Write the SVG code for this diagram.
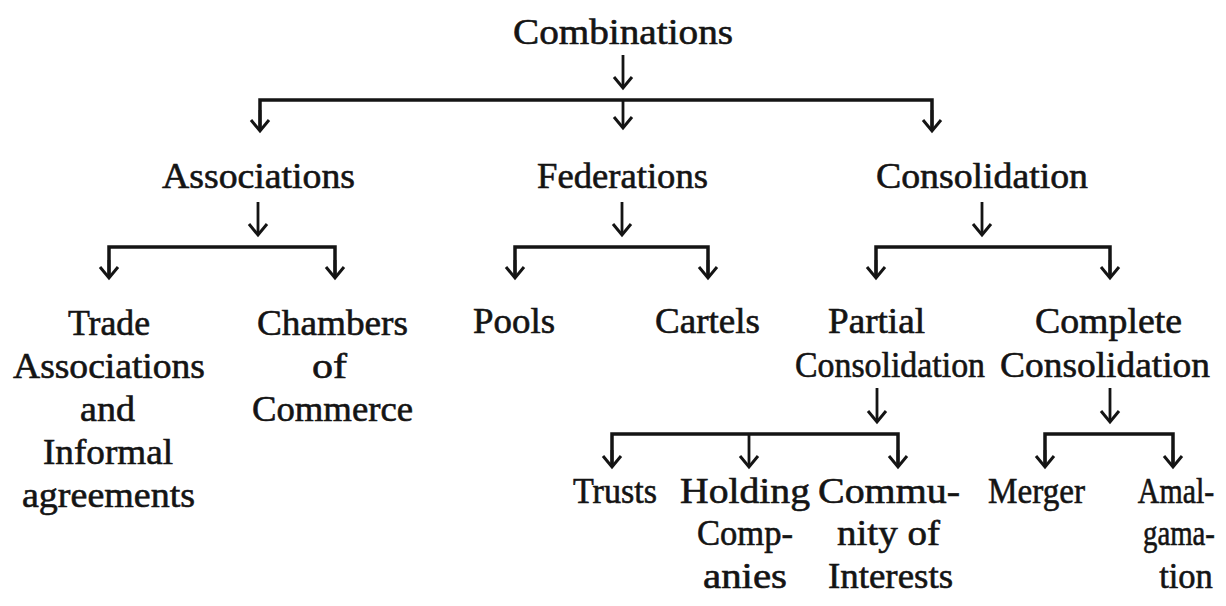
<svg xmlns="http://www.w3.org/2000/svg" width="1226" height="606" viewBox="0 0 1226 606">
<style>
text{font-family:"Liberation Serif","Times New Roman",serif;font-size:36px;fill:#141414;stroke:#141414;stroke-width:0.6}
.c{fill:none;stroke:#141414;stroke-width:3.5;stroke-linejoin:miter}
.a{fill:none;stroke:#141414;stroke-width:2.8}
</style>
<defs>
<marker id="ah" markerUnits="userSpaceOnUse" markerWidth="30" markerHeight="30" refX="0" refY="0" viewBox="-15 -15 30 30" orient="auto" overflow="visible">
<path d="M-11,-9 L0,0 L-11,9" fill="none" stroke="#141414" stroke-width="3"/>
</marker>
</defs>
<rect width="1226" height="606" fill="#ffffff"/>
<g id="connectors">
<line class="a" x1="623" y1="55" x2="623" y2="88" marker-end="url(#ah)"/>
<path class="c" d="M260,131 V100 H932 V131"/>
<line class="a" x1="260" y1="110" x2="260" y2="131" marker-end="url(#ah)"/>
<line class="a" x1="932" y1="110" x2="932" y2="131" marker-end="url(#ah)"/>
<line class="a" x1="623" y1="100" x2="623" y2="128" marker-end="url(#ah)"/>
<line class="a" x1="258" y1="202" x2="258" y2="235" marker-end="url(#ah)"/>
<line class="a" x1="622" y1="202" x2="622" y2="235" marker-end="url(#ah)"/>
<line class="a" x1="982" y1="202" x2="982" y2="235" marker-end="url(#ah)"/>
<path class="c" d="M109,278 V247 H335 V278"/>
<line class="a" x1="109" y1="260" x2="109" y2="278" marker-end="url(#ah)"/>
<line class="a" x1="335" y1="260" x2="335" y2="278" marker-end="url(#ah)"/>
<path class="c" d="M515,278 V247 H708 V278"/>
<line class="a" x1="515" y1="260" x2="515" y2="278" marker-end="url(#ah)"/>
<line class="a" x1="708" y1="260" x2="708" y2="278" marker-end="url(#ah)"/>
<path class="c" d="M876,278 V247 H1110 V278"/>
<line class="a" x1="876" y1="260" x2="876" y2="278" marker-end="url(#ah)"/>
<line class="a" x1="1110" y1="260" x2="1110" y2="278" marker-end="url(#ah)"/>
<line class="a" x1="877" y1="388" x2="877" y2="422" marker-end="url(#ah)"/>
<line class="a" x1="1110" y1="388" x2="1110" y2="422" marker-end="url(#ah)"/>
<path class="c" d="M612,467 V434 H898 V467"/>
<line class="a" x1="612" y1="450" x2="612" y2="467" marker-end="url(#ah)"/>
<line class="a" x1="898" y1="450" x2="898" y2="467" marker-end="url(#ah)"/>
<line class="a" x1="749" y1="434" x2="749" y2="467" marker-end="url(#ah)"/>
<path class="c" d="M1045,467 V434 H1173 V467"/>
<line class="a" x1="1045" y1="450" x2="1045" y2="467" marker-end="url(#ah)"/>
<line class="a" x1="1173" y1="450" x2="1173" y2="467" marker-end="url(#ah)"/>
</g>
<g id="combinations"><text x="513" y="44" textLength="220" lengthAdjust="spacingAndGlyphs">Combinations</text></g>
<g id="associations"><text x="162" y="188" textLength="193" lengthAdjust="spacingAndGlyphs">Associations</text></g>
<g id="federations"><text x="537" y="188" textLength="171" lengthAdjust="spacingAndGlyphs">Federations</text></g>
<g id="consolidation"><text x="876" y="188" textLength="212" lengthAdjust="spacingAndGlyphs">Consolidation</text></g>
<g id="trade-associations">
<text x="68" y="335" textLength="82" lengthAdjust="spacingAndGlyphs">Trade</text>
<text x="13" y="378" textLength="192" lengthAdjust="spacingAndGlyphs">Associations</text>
<text x="80" y="421" textLength="55" lengthAdjust="spacingAndGlyphs">and</text>
<text x="43" y="464" textLength="130" lengthAdjust="spacingAndGlyphs">Informal</text>
<text x="22" y="507" textLength="173" lengthAdjust="spacingAndGlyphs">agreements</text>
</g>
<g id="chambers">
<text x="257" y="335" textLength="151" lengthAdjust="spacingAndGlyphs">Chambers</text>
<text x="312" y="378" textLength="35" lengthAdjust="spacingAndGlyphs">of</text>
<text x="252" y="421" textLength="161" lengthAdjust="spacingAndGlyphs">Commerce</text>
</g>
<g id="pools"><text x="473" y="333" textLength="82" lengthAdjust="spacingAndGlyphs">Pools</text></g>
<g id="cartels"><text x="655" y="333" textLength="105" lengthAdjust="spacingAndGlyphs">Cartels</text></g>
<g id="partial">
<text x="828" y="333" textLength="97" lengthAdjust="spacingAndGlyphs">Partial</text>
<text x="795" y="377" textLength="190" lengthAdjust="spacingAndGlyphs">Consolidation</text>
</g>
<g id="complete">
<text x="1035" y="333" textLength="147" lengthAdjust="spacingAndGlyphs">Complete</text>
<text x="1000" y="377" textLength="210" lengthAdjust="spacingAndGlyphs">Consolidation</text>
</g>
<g id="trusts"><text x="573" y="503" textLength="84" lengthAdjust="spacingAndGlyphs">Trusts</text></g>
<g id="holding">
<text x="680" y="503" textLength="130" lengthAdjust="spacingAndGlyphs">Holding</text>
<text x="697" y="545" textLength="96" lengthAdjust="spacingAndGlyphs">Comp-</text>
<text x="703" y="588" textLength="84" lengthAdjust="spacingAndGlyphs">anies</text>
</g>
<g id="community">
<text x="818" y="503" textLength="142" lengthAdjust="spacingAndGlyphs">Commu-</text>
<text x="837" y="545" textLength="103" lengthAdjust="spacingAndGlyphs">nity of</text>
<text x="828" y="588" textLength="125" lengthAdjust="spacingAndGlyphs">Interests</text>
</g>
<g id="merger"><text x="988" y="503" textLength="97" lengthAdjust="spacingAndGlyphs">Merger</text></g>
<g id="amalgamation">
<text transform="translate(1176,503) scale(0.83,1)" text-anchor="middle">Amal-</text>
<text transform="translate(1179,545) scale(0.8,1)" text-anchor="middle">gama-</text>
<text transform="translate(1186,588) scale(0.96,1)" text-anchor="middle">tion</text>
</g>
</svg>
